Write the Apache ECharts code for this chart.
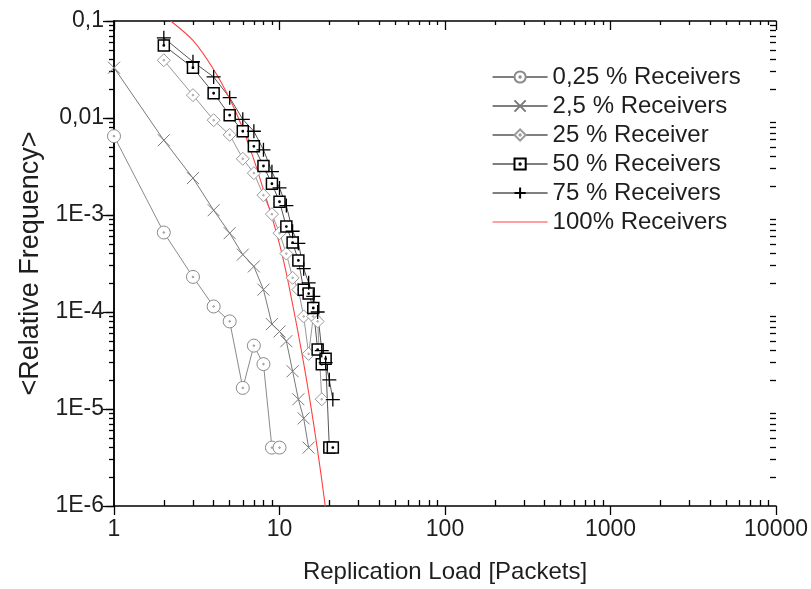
<!DOCTYPE html>
<html><head><meta charset="utf-8">
<script src="https://cdn.jsdelivr.net/npm/echarts@6/dist/echarts.min.js"></script>
<style>html,body{margin:0;padding:0;background:#fff}#c{width:811px;height:589px}</style>
</head><body><div id="c"></div>
<script>
// ---- tick labels ----
const xTickValues = [1, 10, 100, 1000, 10000];
const xTickLabels = ['1', '10', '100', '1000', '10000'];
const yTickValues = [1e-6, 1e-5, 1e-4, 1e-3, 0.01, 0.1];
const yTickLabels = ['1E-6', '1E-5', '1E-4', '1E-3', '0,01', '0,1'];

// ---- series ----
const seriesNames = ['0,25 % Receivers', '2,5 % Receivers', '25 % Receiver', '50 % Receivers', '75 % Receivers', '100% Receivers'];

const x025 = [1, 2, 3, 4, 5, 6, 7, 8, 9, 10];
const y025 = [0.0065, 6.6e-4, 2.3e-4, 1.14e-4, 8e-5, 1.65e-5, 4.5e-5, 2.9e-5, 4e-6, 4e-6];

const x25 = [1, 2, 3, 4, 5, 6, 7, 8, 9, 10, 11, 12, 13, 14, 15];
const y25 = [0.033, 0.0059, 0.0024, 0.00112, 6.5e-4, 3.9e-4, 2.95e-4, 1.7e-4, 7.5e-5, 6.3e-5, 5e-5, 2.45e-5, 1.26e-5, 8e-6, 4e-6];

const x250 = [2, 3, 4, 5, 6, 7, 8, 9, 10, 11, 12, 13, 14, 15, 16, 17, 18];
const y250 = [0.0394, 0.0172, 0.0095, 0.0067, 0.0038, 0.0027, 0.0016, 0.00102, 6.5e-4, 4e-4, 2.25e-4, 1.7e-4, 9e-5, 3.7e-5, 9e-5, 8e-5, 1.26e-5];

const x500 = [2, 3, 4, 5, 6, 7, 8, 9, 10, 11, 12, 13, 14, 15, 16, 17, 18, 19, 20, 21];
const y500 = [0.056, 0.033, 0.018, 0.0107, 0.0073, 0.0051, 0.0032, 0.0021, 0.00137, 7.6e-4, 5.2e-4, 3.4e-4, 1.7e-4, 1.55e-4, 1.1e-4, 4.1e-5, 2.9e-5, 3.3e-5, 4e-6, 4e-6];

const x750 = [2, 3, 4, 5, 6, 7, 8, 9, 10, 11, 12, 13, 14, 15, 16, 17, 18, 19, 20, 21];
const y750 = [0.067, 0.038, 0.0265, 0.0162, 0.0097, 0.0073, 0.0047, 0.0028, 0.0019, 0.00125, 6.8e-4, 5.1e-4, 2.8e-4, 2e-4, 1.45e-4, 1e-4, 4e-5, 3e-5, 2e-5, 1.25e-5];

const x1000 = [2.2, 3, 4, 5, 6, 7, 8, 9, 10, 11, 12, 13, 14, 15, 16, 17, 18, 19];
const y1000 = [0.1, 0.063, 0.0316, 0.0158, 0.00776, 0.00372, 0.00182, 9.5e-4, 5.0e-4, 2.5e-4, 1.2e-4, 5.9e-5, 2.95e-5, 1.48e-5, 7.4e-6, 3.7e-6, 1.86e-6, 9.3e-7];

// ---- helpers ----
const pair = (xs, ys) => xs.map((x, i) => [x, ys[i]]);
const majorLogs = vals => vals.map(v => Math.round(Math.log10(v)));
function minorLogs(vals) {
  const out = [];
  for (let i = 0; i < vals.length - 1; i++) for (let k = 2; k <= 9; k++) out.push(Math.log10(vals[i] * k));
  return out;
}
const xMaj = majorLogs(xTickValues), xMin = minorLogs(xTickValues);
const yMaj = majorLogs(yTickValues), yMin = minorLogs(yTickValues);

const FONT = "'Liberation Sans', Arial, sans-serif";
const TXT = '#1e1e1e';
const AX = { color: '#000', width: 1.5 };

const SYM_CIRCLE = 'path://M10,0A10,10,0,1,1,-10,0A10,10,0,1,1,10,0Z M1.2,0A1.2,1.2,0,1,1,-1.2,0A1.2,1.2,0,1,1,1.2,0Z';
const SYM_X = 'path://M0,0L10,10M0,10L10,0';
const SYM_DIAMOND = 'path://M0,-10L10,0L0,10L-10,0Z M1.2,0A1.2,1.2,0,1,1,-1.2,0A1.2,1.2,0,1,1,1.2,0Z';
const SYM_SQUARE = 'path://M-10,-10L10,-10L10,10L-10,10Z M1.2,0A1.2,1.2,0,1,1,-1.2,0A1.2,1.2,0,1,1,1.2,0Z';
const SYM_PLUS = 'path://M0,5L10,5M5,0L5,10';

function valAxis(dim, pos, ticks, len, inside, showLine, labels) {
  const lo = dim === 'x' ? 0 : -6, hi = dim === 'x' ? 4 : -1;
  const ax = {
    type: 'value', min: lo, max: hi, position: pos,
    axisLine: { show: showLine, lineStyle: AX },
    axisTick: { show: true, inside: inside, length: len, customValues: ticks, lineStyle: { color: '#000', width: 1.3 } },
    axisLabel: { show: false },
    splitLine: { show: false }
  };
  if (labels) {
    const vals = dim === 'x' ? xMaj : yMaj;
    const labs = dim === 'x' ? xTickLabels : yTickLabels;
    ax.axisLabel = {
      show: true, customValues: vals, fontFamily: FONT, fontSize: 23, color: TXT,
      margin: dim === 'x' ? 12 : 10,
      formatter: v => labs[vals.indexOf(Math.round(v))]
    };
  }
  return ax;
}

const xBottom = valAxis('x', 'bottom', xMaj, 9, false, true, true);
xBottom.name = 'Replication Load [Packets]';
xBottom.nameLocation = 'middle';
xBottom.nameGap = 54;
xBottom.nameTextStyle = { fontFamily: FONT, fontSize: 24, color: TXT };

const yLeft = valAxis('y', 'left', yMaj, 8, false, true, true);
yLeft.name = '<Relative Frequency>';
yLeft.nameLocation = 'middle';
yLeft.nameGap = 70;
yLeft.nameTextStyle = { fontFamily: FONT, fontSize: 27, color: TXT };

function lineSeries(name, data, symbol, size, stroke, lineColor, fill, bw) {
  return {
    name, type: 'line', data, symbol, symbolSize: size, showSymbol: true,
    xAxisIndex: 0, yAxisIndex: 0,
    lineStyle: { color: lineColor, width: 1 },
    itemStyle: { color: fill, borderColor: stroke, borderWidth: bw },
    emphasis: { disabled: true }
  };
}

const series = [
  lineSeries(seriesNames[0], pair(x025, y025), SYM_CIRCLE, 13, '#8a8a8a', '#8a8a8a', '#fff', 1),
  lineSeries(seriesNames[1], pair(x25, y25), SYM_X, 12, '#7a7a7a', '#7a7a7a', 'transparent', 1),
  lineSeries(seriesNames[2], pair(x250, y250), SYM_DIAMOND, 13, '#999', '#999', '#fff', 1),
  lineSeries(seriesNames[3], pair(x500, y500), SYM_SQUARE, 11, '#000', '#555', '#fff', 1.5),
  lineSeries(seriesNames[4], pair(x750, y750), SYM_PLUS, 14, '#000', '#555', 'transparent', 1.3),
  {
    name: seriesNames[5], type: 'line', data: pair(x1000, y1000), symbol: 'none', smooth: 0.3,
    lineStyle: { color: '#ff4040', width: 1.1 }, itemStyle: { color: '#ff4040' },
    emphasis: { disabled: true }
  }
];

const option = {
  animation: false,
  backgroundColor: '#fff',
  grid: { left: 114, right: 33, top: 21, bottom: 83, containLabel: false },
  legend: {
    orient: 'vertical', left: 492, top: 65, padding: 0,
    itemWidth: 55, itemHeight: 14, itemGap: 5,
    textStyle: { fontFamily: FONT, fontSize: 24, color: TXT },
    data: seriesNames.map((n, i) => i < 5
      ? { name: n, lineStyle: { color: '#000', width: 1.2 } }
      : { name: n, itemStyle: { opacity: 0 }, lineStyle: { color: '#ff4040', width: 1.2 } })
  },
  xAxis: [
    { type: 'log', logBase: 10, min: 1, max: 10000, show: false },
    xBottom,
    valAxis('x', 'bottom', xMin, 6, true, false, false),
    valAxis('x', 'top', xMaj, 9, true, true, false),
    valAxis('x', 'top', xMin, 4, true, false, false)
  ],
  yAxis: [
    { type: 'log', logBase: 10, min: 1e-6, max: 0.1, show: false },
    yLeft,
    valAxis('y', 'left', yMin, 5, false, false, false),
    valAxis('y', 'right', yMaj, 11, true, true, false),
    valAxis('y', 'right', yMin, 6, true, false, false)
  ],
  series
};

const chart = echarts.init(document.getElementById('c'), null, { renderer: 'canvas' });
chart.setOption(option);
</script>
</body></html>
